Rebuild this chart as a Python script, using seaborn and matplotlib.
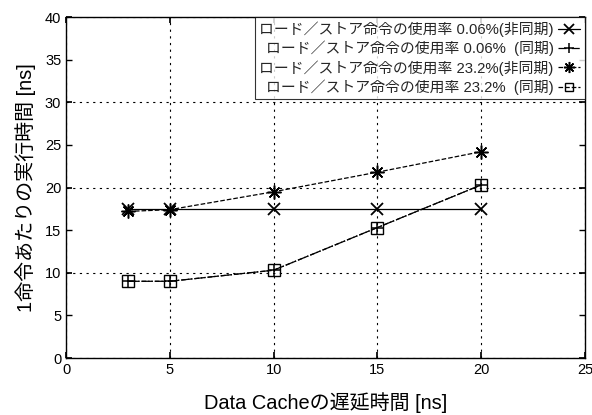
import matplotlib
matplotlib.use("Agg")
import matplotlib.pyplot as plt
import matplotlib.ticker as mticker
import seaborn as sns
import pandas as pd

latency = [3, 5, 10, 15, 20]
async_006 = [17.5, 17.5, 17.5, 17.5, 17.5]
sync_006 = [9.0, 9.0, 10.3, 15.3, 20.3]
async_232 = [17.2, 17.4, 19.5, 21.8, 24.2]
sync_232 = [9.0, 9.0, 10.3, 15.3, 20.3]

labels = [
    "ロード／ストア命令の使用率 0.06%(非同期)",
    "ロード／ストア命令の使用率 0.06%  (同期)",
    "ロード／ストア命令の使用率 23.2%(非同期)",
    "ロード／ストア命令の使用率 23.2%  (同期)",
]

sns.set_theme(style="white")
plt.rcParams['font.family'] = ['Liberation Sans', 'Noto Sans CJK JP', 'DejaVu Sans']

fig = plt.figure(figsize=(5.92, 4.15), dpi=100)
ax = fig.add_axes([0.1115, 0.1373, 0.8765, 0.8217])

series = [
    (async_006, labels[0], dict(marker='x', linestyle='-', markersize=9, mew=1.3)),
    (sync_006, labels[1], dict(marker='+', linestyle='-.', markersize=9, mew=1.1)),
    (async_232, labels[2], dict(marker=(8, 2, 0), linestyle='--', markersize=10, mew=1.1)),
    (sync_232, labels[3], dict(marker='s', linestyle='--', markersize=8, mew=1.0, mfc='none')),
]
for vals, lab, kw in series:
    df = pd.DataFrame({"x": latency, "y": vals})
    sns.lineplot(data=df, x="x", y="y", ax=ax, color='black', linewidth=0.9,
                 label=lab, mec='black', **kw)

ax.set_xlim(0, 25)
ax.set_ylim(0, 40)
ax.xaxis.set_major_locator(mticker.MultipleLocator(5))
ax.yaxis.set_major_locator(mticker.MultipleLocator(10))
ax.yaxis.set_minor_locator(mticker.FixedLocator([5, 15, 25, 35]))
ax.yaxis.set_minor_formatter(mticker.FormatStrFormatter('%d'))
ax.tick_params(axis='both', which='both', direction='in', length=4, labelsize=10.5,
               colors='black', left=True, bottom=True, top=True, right=True)
ax.tick_params(axis='y', which='minor', length=4, labelsize=10.5)
ax.grid(True, which='major', linestyle=(0, (2, 4)), color='black', linewidth=0.8)
for s in ax.spines.values():
    s.set_color('black')
    s.set_linewidth(1.0)

ax.set_xlabel("Data Cacheの遅延時間 [ns]", fontsize=14.4, labelpad=11, color='black')
ax.set_ylabel("1命令あたりの実行時間 [ns]", fontsize=14.4, labelpad=6, color='black')

leg = ax.legend(loc='upper right', markerfirst=False, fontsize=10.7, handlelength=1.5,
                frameon=True, fancybox=False, edgecolor='black', borderpad=0.3,
                labelspacing=0.25, handletextpad=0.3, borderaxespad=0.0, markerscale=0.8)
leg.get_frame().set_linewidth(0.8)

fig.savefig("out.png", dpi=100)
